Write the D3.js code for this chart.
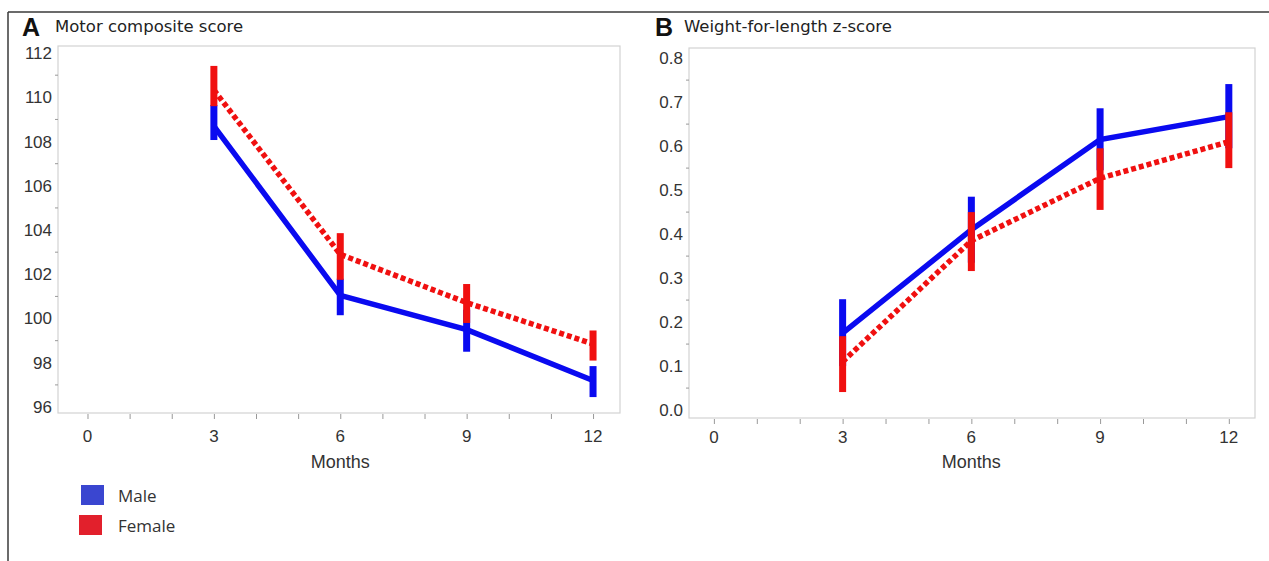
<!DOCTYPE html>
<html>
<head>
<meta charset="utf-8">
<script src="https://cdn.jsdelivr.net/npm/d3@7"></script>
<style>
  body { margin: 0; background: #fff; }
  svg { display: block; }
</style>
</head>
<body>
<div class="chart"></div>
<script>
// months on the x axis
const months = [3, 6, 9, 12];
const monthTicks = [0, 1, 2, 3, 4, 5, 6, 7, 8, 9, 10, 11, 12];
const monthLabels = [0, 3, 6, 9, 12];

// panel A - motor composite score
const motorMale = [108.7, 101.05, 99.5, 97.2];
const motorMaleLo = [108.07, 100.15, 98.5, 96.45];
const motorMaleHi = [109.65, 101.8, 100.4, 97.85];
const motorFemale = [110.33, 102.9, 100.72, 98.85];
const motorFemaleLo = [109.6, 101.75, 99.8, 98.1];
const motorFemaleHi = [111.42, 103.86, 101.56, 99.46];
const motorTicks = [96, 98, 100, 102, 104, 106, 108, 110, 112];
const motorMinor = [97, 99, 101, 103, 105, 107, 109, 111];

// panel B - weight-for-length z-score
const wflMale = [0.175, 0.41, 0.615, 0.667];
const wflMaleLo = [0.10, 0.335, 0.545, 0.595];
const wflMaleHi = [0.252, 0.485, 0.686, 0.741];
const wflFemale = [0.11, 0.385, 0.527, 0.61];
const wflFemaleLo = [0.041, 0.316, 0.455, 0.55];
const wflFemaleHi = [0.168, 0.45, 0.595, 0.677];
const wflTicks = [0.0, 0.1, 0.2, 0.3, 0.4, 0.5, 0.6, 0.7, 0.8];
const wflMinor = [0.05, 0.15, 0.25, 0.35, 0.45, 0.55, 0.65, 0.75];

const legendNames = ['Male', 'Female'];

const width = 1269;
const height = 561;
const blue = '#0a0af0';
const red = '#f01010';

const svg = d3.select('.chart')
   .append('svg')
   .attr('width', width)
   .attr('height', height);

// outer frame
svg.append('line').attr('x1', 8).attr('x2', width).attr('y1', 12).attr('y2', 12)
   .attr('stroke', '#3a3a3a').attr('stroke-width', 1.5);
svg.append('line').attr('x1', 8).attr('x2', 8).attr('y1', 12).attr('y2', height)
   .attr('stroke', '#3a3a3a').attr('stroke-width', 1.5);

const panels = [
   {
      letter: 'A', title: 'Motor composite score', letterX: 22, titleX: 55,
      box: {left: 58, top: 46, right: 620, bottom: 413},
      xDomain: [-0.7, 12.64], yDomain: [95.73, 112.32],
      ticks: motorTicks, minor: motorMinor, fmt: d3.format('d'),
      male: motorMale, maleLo: motorMaleLo, maleHi: motorMaleHi,
      female: motorFemale, femaleLo: motorFemaleLo, femaleHi: motorFemaleHi,
      labelY: 442
   },
   {
      letter: 'B', title: 'Weight-for-length z-score', letterX: 655, titleX: 684,
      box: {left: 689, top: 48, right: 1255, bottom: 418},
      xDomain: [-0.58, 12.61], yDomain: [-0.018, 0.823],
      ticks: wflTicks, minor: wflMinor, fmt: d3.format('.1f'),
      male: wflMale, maleLo: wflMaleLo, maleHi: wflMaleHi,
      female: wflFemale, femaleLo: wflFemaleLo, femaleHi: wflFemaleHi,
      labelY: 443
   }
];

panels.forEach(function(p) {

   const b = p.box;
   const x = d3.scaleLinear().domain(p.xDomain).range([b.left, b.right]);
   const y = d3.scaleLinear().domain(p.yDomain).range([b.bottom, b.top]);

   svg.append('text')
      .attr('x', p.letterX).attr('y', 36)
      .style('font', 'bold 25px "Liberation Sans", Arial, sans-serif')
      .attr('fill', '#111')
      .text(p.letter);

   svg.append('text')
      .attr('x', p.titleX).attr('y', 32)
      .style('font', '16.5px "DejaVu Sans", sans-serif')
      .attr('fill', '#222')
      .text(p.title);

   // plot frame
   svg.append('rect')
      .attr('x', b.left).attr('y', b.top)
      .attr('width', b.right - b.left).attr('height', b.bottom - b.top)
      .attr('fill', 'none').attr('stroke', '#d2d2d2').attr('stroke-width', 1.2);

   // y axis: labels only, minor ticks outside
   const yAxis = d3.axisLeft(y).tickValues(p.ticks).tickFormat(p.fmt).tickSize(0).tickPadding(6);
   const gy = svg.append('g').attr('transform', `translate(${b.left},0)`).call(yAxis);
   gy.select('.domain').remove();
   gy.selectAll('text')
      .style('font', '17px "Liberation Sans", Arial, sans-serif')
      .attr('fill', '#333');

   svg.append('g').selectAll('line')
      .data(p.minor)
      .enter()
      .append('line')
         .attr('x1', b.left - 3).attr('x2', b.left)
         .attr('y1', d => y(d)).attr('y2', d => y(d))
         .attr('stroke', '#999');

   // x axis: month ticks below the frame
   const xAxis = d3.axisBottom(x).tickValues(monthTicks).tickFormat('').tickSize(5);
   const gx = svg.append('g').attr('transform', `translate(0,${b.bottom + 1})`).call(xAxis);
   gx.select('.domain').remove();
   gx.selectAll('line').attr('stroke', '#999');

   svg.append('g').selectAll('text')
      .data(monthLabels)
      .enter()
      .append('text')
         .attr('x', d => x(d)).attr('y', p.labelY)
         .attr('text-anchor', 'middle')
         .style('font', '17px "Liberation Sans", Arial, sans-serif')
         .attr('fill', '#333')
         .text(d => d);

   svg.append('text')
      .attr('x', x(6)).attr('y', 468)
      .attr('text-anchor', 'middle')
      .style('font', '18px "Liberation Sans", Arial, sans-serif')
      .attr('fill', '#333')
      .text('Months');

   const series = [
      {mean: p.male, lo: p.maleLo, hi: p.maleHi, color: blue, dash: null},
      {mean: p.female, lo: p.femaleLo, hi: p.femaleHi, color: red, dash: '5,3'}
   ];

   series.forEach(function(s) {

      const line = d3.line()
         .x((d, i) => x(months[i]))
         .y(d => y(d));

      svg.append('path')
         .datum(s.mean)
         .attr('d', line)
         .attr('fill', 'none')
         .attr('stroke', s.color)
         .attr('stroke-width', 5.5)
         .attr('stroke-dasharray', s.dash);

      svg.append('g').selectAll('rect')
         .data(months)
         .enter()
         .append('rect')
            .attr('x', d => x(d) - 3.5)
            .attr('width', 7)
            .attr('y', (d, i) => y(s.hi[i]))
            .attr('height', (d, i) => y(s.lo[i]) - y(s.hi[i]))
            .attr('fill', s.color);
   });

});

// legend
const legend = svg.append('g');
const legendColors = ['#3a46d0', '#e2202c'];

legend.selectAll('rect')
   .data(legendNames)
   .enter()
   .append('rect')
      .attr('x', (d, i) => 81 - i * 2)
      .attr('y', (d, i) => 485 + i * 30)
      .attr('width', 23).attr('height', 20)
      .attr('fill', (d, i) => legendColors[i]);

legend.selectAll('text')
   .data(legendNames)
   .enter()
   .append('text')
      .attr('x', 118)
      .attr('y', (d, i) => 502 + i * 30)
      .style('font', '17px "Open Sans", sans-serif')
      .attr('fill', '#333')
      .text(d => d);

</script>
</body>
</html>
